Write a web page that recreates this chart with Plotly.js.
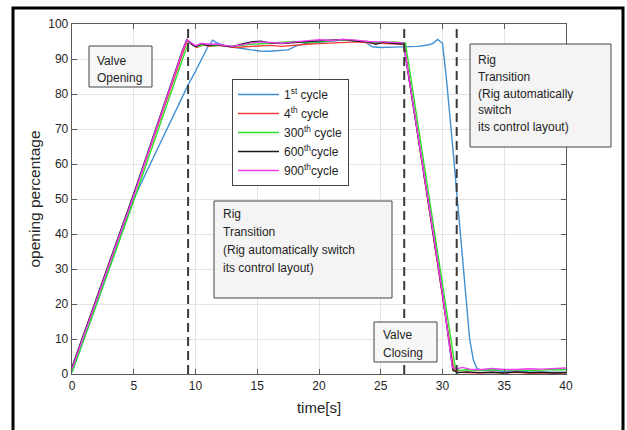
<!DOCTYPE html>
<html>
<head>
<meta charset="utf-8">
<script src="https://cdn.plot.ly/plotly-3.0.1.min.js"></script>
<style>
  html, body { margin: 0; padding: 0; background: #fff; }
  #chart { width: 627px; height: 430px; }
</style>
</head>
<body>
<div id="chart"></div>
<script>
// Valve opening percentage over one cycle, for several cycle counts.
const seriesNames = ['1<sup>st</sup> cycle', '4<sup>th</sup> cycle', '300<sup>th</sup> cycle', '600<sup>th</sup>cycle', '900<sup>th</sup>cycle'];
const seriesColors = ['#3f8fd2', '#f23b3b', '#2fe02f', '#1a1a1a', '#f03cf0'];

const t1 = [0, 1, 2, 3, 4, 5, 6, 7, 8, 9, 9.4, 10, 10.5, 11, 11.4, 11.8, 12.3, 13, 13.8, 14.5, 15.2, 16, 16.8, 17.5, 18.2, 19, 20, 21, 22, 23, 23.8, 24.3, 25, 26, 27, 28, 28.8, 29.2, 29.6, 30.0, 30.3, 30.6, 30.85, 31.2, 31.5, 31.9, 32.2, 32.5, 32.8, 33.3, 34, 35, 36, 37, 38, 39, 40];
const v1 = [0.5, 10, 20, 30, 40, 50, 57.5, 65, 72.5, 80, 82.6, 86.5, 90, 93.5, 95.4, 94.5, 93.8, 93.5, 93, 92.6, 92.3, 92.2, 92.5, 92.6, 93.8, 94.5, 94.8, 95.2, 95.4, 95.2, 94.8, 93.5, 93.3, 93.4, 93.5, 93.6, 94, 94.4, 95.6, 94.5, 85, 74.5, 64, 50, 37.5, 21, 10, 4, 1.5, 1, 1.2, 0.6, 0.8, 0.6, 0.5, 0.4, 0.5];

const t4 = [0, 5, 9.0, 9.35, 9.7, 10.1, 10.6, 11.2, 11.8, 12.5, 13.3, 14, 15, 16, 17, 18, 19, 20, 21, 22, 23, 24, 25, 26, 26.9, 27.3, 28, 29, 30, 30.9, 31.3, 32, 33, 34, 35, 36, 37, 38, 39, 40];
const v4 = [1.5, 51, 92, 95.3, 94.5, 93.3, 94, 93.6, 93.9, 93.6, 93.3, 93.5, 93.8, 93.9, 93.6, 94.0, 94.2, 94.4, 94.6, 94.8, 94.9, 94.6, 94.4, 94.3, 94.2, 84.5, 68.5, 45.5, 22.5, 1.5, 0.5, 0.4, 0.3, 0.5, 0.3, 0.5, 0.2, 0.3, 0.2, 0.3];

const t300 = [0, 5, 9.15, 9.5, 9.9, 10.3, 10.8, 11.4, 12, 12.8, 13.5, 14.3, 15, 16, 17, 18, 19, 20, 21, 22, 23, 24, 25, 26, 27.0, 27.4, 28, 29, 30, 31.05, 31.4, 32, 33, 34, 35, 36, 37, 38, 39, 40];
const v300 = [0.5, 49.5, 92, 95, 93.8, 93.6, 94.2, 93.7, 94.0, 93.6, 93.8, 94.2, 94.3, 94.6, 94.8, 95.0, 94.7, 94.9, 95.3, 95.5, 95.2, 95.0, 94.7, 94.9, 94.6, 85.4, 71.6, 48.6, 25.6, 1.5, 1.0, 1.2, 1.0, 1.3, 1.1, 1.2, 1.0, 1.2, 1.3, 1.2];

const t600 = [0, 5, 8.95, 9.3, 9.65, 10.0, 10.5, 11.0, 11.6, 12.3, 13, 13.8, 14.5, 15.3, 16, 17, 18, 19, 20, 21, 22, 23, 24, 24.6, 25.2, 26, 26.85, 27.2, 28, 29, 30, 30.85, 31.3, 32, 33, 34, 35, 36, 37, 38, 39, 40];
const v600 = [2, 51.5, 92.5, 95.6, 94.3, 93.5, 94.4, 93.9, 94.1, 93.7, 93.5, 94.3, 94.9, 95.1, 94.6, 94.4, 94.8, 95.0, 95.2, 95.4, 95.6, 95.1, 94.9, 94.2, 94.8, 94.5, 94.3, 86.3, 68.7, 45.7, 22.7, 1.0, 0.4, 0.6, 0.4, 0.5, 0.3, 0.6, 0.4, 0.5, 0.3, 0.4];

const t900 = [0, 5, 8.95, 9.3, 9.65, 10.0, 10.5, 11.0, 11.6, 12.3, 13, 13.8, 14.5, 15.3, 16, 17, 18, 19, 20, 21, 22, 23, 24, 25, 26, 26.85, 27.2, 28, 29, 30, 30.8, 31.2, 31.6, 32.2, 33, 34, 35, 36, 37, 38, 39, 40];
const v900 = [1.5, 51, 92.3, 95.5, 94.6, 93.8, 94.5, 94.2, 94.3, 93.9, 93.6, 94.1, 94.6, 94.9, 94.7, 94.5, 94.9, 95.2, 95.5, 95.3, 95.6, 95.4, 95.0, 94.9, 94.8, 94.6, 86.6, 69, 46, 23, 1.8, 1.5, 1.9, 1.4, 1.2, 1.6, 1.3, 1.3, 1.5, 1.4, 1.6, 1.7];

// Times at which the rig changes phase (dashed markers).
const phaseTimes = [9.4, 26.9, 31.15];

const xTicks = [0, 5, 10, 15, 20, 25, 30, 35, 40];
const yTicks = [0, 10, 20, 30, 40, 50, 60, 70, 80, 90, 100];

const FONT = 'Liberation Sans, Arial, sans-serif';
const xs = [t1, t4, t300, t600, t900];
const ys = [v1, v4, v300, v600, v900];

const traces = xs.map((x, i) => ({
  type: 'scatter', mode: 'lines',
  x: x, y: ys[i], name: seriesNames[i],
  line: { color: seriesColors[i], width: 1.4 },
  hoverinfo: 'skip'
}));

// Plot-area pixel geometry, used to place the text boxes in paper units.
const L = 72, R = 566, T = 24, B = 374;
const px = v => (v - L) / (R - L);
const py = v => (B - v) / (B - T);

const shapes = [];
phaseTimes.forEach(t => shapes.push({
  type: 'line', xref: 'x', yref: 'y', x0: t, x1: t, y0: 0, y1: 100,
  line: { color: '#3a3a3a', width: 2, dash: '9px,5px' }, layer: 'above'
}));

const annotations = [];
function textBox(x0, y0, x1, y1, textX, firstY, step, lines, fill) {
  shapes.push({
    type: 'rect', xref: 'paper', yref: 'paper',
    x0: px(x0), x1: px(x1), y0: py(y1), y1: py(y0),
    fillcolor: fill, line: { color: '#444', width: 1 }, layer: 'above'
  });
  lines.forEach((s, k) => annotations.push({
    xref: 'paper', yref: 'paper', x: px(textX), y: py(firstY + k * step),
    xanchor: 'left', yanchor: 'middle', showarrow: false, text: s,
    font: { family: FONT, size: 12, color: '#1e1e1e' }
  }));
}

textBox(89, 46, 152, 87, 95, 60.5, 17.5, ['Valve', 'Opening'], '#f7f7f7');
textBox(214, 201, 392, 298, 221, 214, 18, ['Rig', 'Transition', '(Rig automatically switch', 'its control layout)'], '#f4f4f4');
textBox(470, 44, 611, 147, 476, 60, 16.8, ['Rig', 'Transition', '(Rig automatically', 'switch', 'its control layout)'], '#f4f4f4');
textBox(374, 322, 437, 362, 381, 335, 17.7, ['Valve', 'Closing'], '#f7f7f7');

// Outer figure frame.
shapes.push({
  type: 'rect', xref: 'paper', yref: 'paper',
  x0: px(13), x1: px(623), y0: py(470), y1: py(8),
  line: { color: '#000', width: 3 }, layer: 'above'
});

const axisCommon = {
  showgrid: true, gridcolor: '#e3e3e3', gridwidth: 1,
  showline: true, linecolor: '#5a5a5a', linewidth: 1.3,
  mirror: 'ticks', ticks: 'inside', ticklen: 5, tickcolor: '#5a5a5a',
  zeroline: false, tickfont: { family: FONT, size: 12, color: '#262626' },
  fixedrange: true
};

const layout = {
  width: 627, height: 430,
  margin: { l: L, r: 627 - R, t: T, b: 430 - B, pad: 0 },
  paper_bgcolor: '#fff', plot_bgcolor: '#fff',
  font: { family: FONT, color: '#262626' },
  xaxis: Object.assign({}, axisCommon, {
    range: [0, 40], tickvals: xTicks, ticktext: xTicks.map(String),
    title: { text: 'time[s]', font: { family: FONT, size: 15, color: '#262626' }, standoff: 10 }
  }),
  yaxis: Object.assign({}, axisCommon, {
    range: [0, 100], tickvals: yTicks, ticktext: yTicks.map(String),
    title: { text: 'opening percentage', font: { family: FONT, size: 15.5, color: '#262626' }, standoff: 3 }
  }),
  showlegend: true,
  legend: {
    x: px(232), y: py(79), xanchor: 'left', yanchor: 'top',
    bgcolor: '#fff', bordercolor: '#444', borderwidth: 1,
    font: { family: FONT, size: 12, color: '#1e1e1e' },
    traceorder: 'normal', itemwidth: 41
  },
  shapes: shapes,
  annotations: annotations
};

Plotly.newPlot('chart', traces, layout, { staticPlot: true, displayModeBar: false });
</script>
</body>
</html>
